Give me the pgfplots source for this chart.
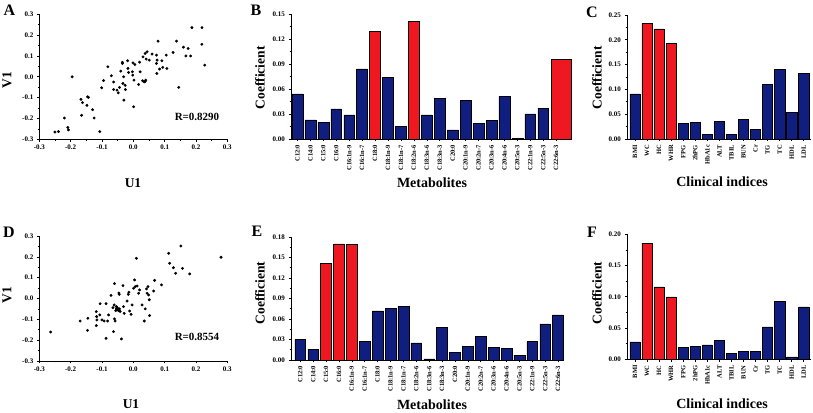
\documentclass[border=0pt]{standalone}
\usepackage{pgfplots}
\pgfplotsset{compat=1.18}
\usepackage{fontspec}
\setmainfont{Liberation Serif}
\definecolor{barblue}{RGB}{16,30,128}
\definecolor{barred}{RGB}{240,24,32}
\pgfplotsset{
  panel/.style={scale only axis, anchor=south west,
    axis x line*=bottom, axis y line*=left,
    axis line style={line width=0.7pt},
    tick align=outside, major tick length=2.5pt, minor tick length=1.5pt,
    every tick/.style={line width=0.6pt, black},
    ticklabel style={font=\rmfamily\fontsize{7}{7}\selectfont\bfseries},
    /pgf/number format/assume math mode=true,
    /pgf/number format/fixed, /pgf/number format/fixed zerofill,
    clip=false},
  scat/.style={panel, width=188pt, height=125pt,
    xmin=-0.3, xmax=0.3, ymin=-0.3, ymax=0.3,
    xtick={-0.3,-0.2,-0.1,0,0.1,0.2,0.3}, ytick={-0.3,-0.2,-0.1,0,0.1,0.2,0.3},
    minor tick num=1, /pgf/number format/precision=1},
  bars/.style={panel, ybar, bar shift=0pt, bar width=0.84,
    minor y tick num=1, xtick={0,...,20},
    xticklabel style={rotate=90, anchor=east, font=\rmfamily\fontsize{6.5}{6.5}\selectfont\bfseries},
    /pgf/number format/precision=2},
  blu/.style={fill=barblue, draw=black, line width=0.5pt},
  rd/.style={fill=barred, draw=black, line width=0.5pt},
  mk/.style={only marks, mark=*, mark size=1.25pt, black}
}
\begin{document}
\begin{tikzpicture}[x=1pt,y=1pt]
\useasboundingbox (0,0) rectangle (813,412);
% ---------- A ----------
\begin{axis}[scat, at={(39.3pt,272.7pt)}]
\addplot[mk] coordinates {
(-0.250,-0.265)(-0.239,-0.263)(-0.220,-0.198)(-0.209,-0.243)(-0.207,-0.255)(-0.195,0.000)
(-0.167,-0.108)(-0.162,-0.124)(-0.165,-0.185)(-0.146,-0.096)(-0.143,-0.099)(-0.148,-0.137)
(-0.130,-0.158)(-0.125,-0.198)(-0.107,-0.263)(-0.101,-0.053)(-0.095,-0.018)(-0.081,0.048)
(-0.070,0.005)(-0.063,-0.025)(-0.063,-0.061)(-0.052,-0.064)(-0.048,-0.077)(-0.044,-0.051)
(-0.040,0.027)(-0.035,0.064)(-0.033,-0.032)(-0.030,-0.112)(-0.035,0.070)(-0.026,-0.041)
(-0.025,-0.061)(-0.031,0.000)(-0.018,0.077)(-0.017,0.040)(-0.015,0.021)(-0.003,0.024)
(-0.002,0.008)(0.001,-0.144)(0.002,-0.016)(-0.001,0.067)(0.005,0.059)(0.017,-0.037)
(0.022,0.024)(0.020,0.070)(0.030,-0.019)(0.035,-0.024)(0.038,-0.022)(0.040,-0.016)
(0.031,0.096)(0.038,0.112)(0.041,0.085)(0.044,0.120)(0.051,0.080)(0.060,0.109)
(0.074,0.104)(0.076,0.080)(0.074,0.064)(0.075,0.016)(0.079,0.171)(0.084,0.037)
(0.091,0.077)(0.094,0.045)(0.105,0.104)(0.107,0.040)(0.127,0.117)(0.138,0.171)
(0.145,-0.051)(0.160,0.142)(0.168,0.100)(0.175,0.136)(0.183,0.100)(0.187,0.236)
(0.219,0.236)(0.219,0.156)(0.228,0.056)};
\end{axis}
% ---------- D ----------
\begin{axis}[scat, at={(39.3pt,51pt)}]
\addplot[mk] coordinates {
(-0.264,-0.161)(-0.170,-0.108)(-0.145,-0.095)(-0.146,-0.153)(-0.118,-0.063)(-0.117,-0.087)
(-0.118,-0.130)(-0.116,-0.103)(-0.106,-0.025)(-0.107,-0.079)(-0.100,-0.103)(-0.093,-0.108)
(-0.087,-0.025)(-0.087,-0.191)(-0.082,-0.108)(-0.079,-0.079)(-0.071,0.015)(-0.065,-0.044)
(-0.060,0.071)(-0.061,-0.031)(-0.063,-0.159)(-0.060,-0.098)(-0.058,-0.108)(-0.054,-0.039)
(-0.052,-0.053)(-0.050,-0.046)(-0.047,-0.058)(-0.044,-0.050)(-0.042,-0.062)(-0.056,-0.058)
(-0.054,-0.049)(-0.046,0.026)(-0.045,0.020)(-0.038,-0.194)(-0.033,0.062)(-0.031,-0.039)
(-0.029,-0.071)(-0.020,-0.012)(-0.016,0.020)(-0.014,0.030)(-0.012,-0.060)(-0.007,-0.076)
(-0.004,-0.031)(0.001,0.049)(0.004,0.089)(0.006,0.057)(0.010,0.193)(0.012,0.060)
(0.017,0.025)(0.020,0.041)(0.028,-0.031)(0.035,-0.108)(0.038,-0.050)(0.042,0.046)
(0.044,0.025)(0.047,0.057)(0.049,0.017)(0.051,-0.006)(0.052,-0.082)(0.065,0.036)
(0.068,0.087)(0.090,0.065)(0.113,0.217)(0.116,0.169)(0.128,0.148)(0.135,0.121)
(0.152,0.252)(0.157,0.145)(0.180,0.118)(0.280,0.198)};
\end{axis}
% ---------- B ----------
\begin{axis}[bars, at={(291pt,273pt)}, width=280pt, height=125pt,
  xmin=-0.5, xmax=21.15, ymin=0, ymax=0.15,
  ytick={0,0.03,0.06,0.09,0.12,0.15},
  xticklabels={C12:0,C14:0,C15:0,C16:0,C16:1n-9,C16:1n-7,C18:0,C18:1n-9,C18:1n-7,C18:2n-6,C18:3n-6,C18:3n-3,C20:0,C20:1n-9,C20:2n-7,C20:3n-6,C20:4n-6,C20:5n-3,C22:1n-9,C22:5n-3,C22:6n-3}]
\addplot[blu] coordinates {(0,0.054)(1,0.023)(2,0.020)(3,0.036)(4,0.029)(5,0.084)(7,0.074)(8,0.015)(10,0.029)(11,0.049)(12,0.011)(13,0.046)(14,0.019)(15,0.022)(16,0.051)(17,0.001)(18,0.030)(19,0.037)};
\addplot[rd] coordinates {(6,0.129)(9,0.141)};
\addplot[rd, bar shift=0.38, bar width=1.55] coordinates {(20,0.096)};
\end{axis}
% ---------- E ----------
\begin{axis}[bars, at={(291pt,52pt)}, width=273pt, height=123pt,
  xmin=-0.72, xmax=20.46, ymin=0, ymax=0.18,
  ytick={0,0.03,0.06,0.09,0.12,0.15,0.18},
  xticklabels={C12:0,C14:0,C15:0,C16:0,C16:1n-9,C16:1n-7,C18:0,C18:1n-9,C18:1n-7,C18:2n-6,C18:3n-6,C18:3n-3,C20:0,C20:1n-9,C20:2n-7,C20:3n-6,C20:4n-6,C20:5n-3,C22:1n-9,C22:5n-3,C22:6n-3}]
\addplot[blu] coordinates {(0,0.030)(1,0.016)(5,0.027)(6,0.072)(7,0.075)(8,0.078)(9,0.025)(10,0.0015)(11,0.048)(12,0.011)(13,0.020)(14,0.035)(15,0.018)(16,0.017)(17,0.007)(18,0.027)(19,0.053)(20,0.066)};
\addplot[rd] coordinates {(2,0.141)(3,0.170)(4,0.169)};
\end{axis}
% ---------- C ----------
\begin{axis}[bars, at={(627pt,273pt)}, width=184pt, height=124pt,
  xmin=-0.66, xmax=14.6, ymin=0, ymax=0.25, xtick={0,...,14},
  ytick={0,0.05,0.10,0.15,0.20,0.25}, bar width=0.85,
  xticklabels={BMI,WC,HC,WHR,FPG,2hPG,HbA1c,ALT,TBIL,BUN,Cr,TG,TC,HDL,LDL}]
\addplot[blu] coordinates {(0,0.091)(4,0.031)(5,0.034)(6,0.010)(7,0.035)(8,0.009)(9,0.039)(10,0.019)(11,0.110)(12,0.141)(13,0.054)(14,0.133)};
\addplot[rd] coordinates {(1,0.233)(2,0.222)(3,0.193)};
\end{axis}
% ---------- F ----------
\begin{axis}[bars, at={(627pt,52.7pt)}, width=184pt, height=125pt,
  xmin=-0.66, xmax=14.6, ymin=0, ymax=0.20, xtick={0,...,14},
  ytick={0,0.05,0.10,0.15,0.20}, bar width=0.85,
  xticklabels={BMI,WC,HC,WHR,FPG,2hPG,HbA1c,ALT,TBIL,BUN,Cr,TG,TC,HDL,LDL}]
\addplot[blu] coordinates {(0,0.028)(4,0.019)(5,0.021)(6,0.023)(7,0.030)(8,0.0096)(9,0.013)(10,0.013)(11,0.052)(12,0.093)(13,0.004)(14,0.084)};
\addplot[rd] coordinates {(1,0.186)(2,0.116)(3,0.100)};
\end{axis}
% ---------- labels ----------
\begin{scope}[every node/.style={font=\rmfamily\bfseries}]
\node[font=\rmfamily\fontsize{16}{16}\selectfont\bfseries] at (9.5,402) {A};
\node[font=\rmfamily\fontsize{16}{16}\selectfont\bfseries] at (256,402) {B};
\node[font=\rmfamily\fontsize{16}{16}\selectfont\bfseries] at (592,400) {C};
\node[font=\rmfamily\fontsize{16}{16}\selectfont\bfseries] at (9,180) {D};
\node[font=\rmfamily\fontsize{16}{16}\selectfont\bfseries] at (257,181) {E};
\node[font=\rmfamily\fontsize{16}{16}\selectfont\bfseries] at (592,180) {F};
\node[font=\rmfamily\fontsize{13.5}{13.5}\selectfont\bfseries, rotate=90] at (7,332) {V1};
\node[font=\rmfamily\fontsize{13.5}{13.5}\selectfont\bfseries, rotate=90] at (7,117) {V1};
\node[font=\rmfamily\fontsize{13.5}{13.5}\selectfont\bfseries] at (133,229) {U1};
\node[font=\rmfamily\fontsize{13.5}{13.5}\selectfont\bfseries] at (131,8) {U1};
\node[font=\rmfamily\fontsize{11}{11}\selectfont\bfseries] at (197,295) {R=0.8290};
\node[font=\rmfamily\fontsize{11}{11}\selectfont\bfseries] at (197,75) {R=0.8554};
\node[font=\rmfamily\fontsize{13.5}{13.5}\selectfont\bfseries, rotate=90] at (260,334) {Coefficient};
\node[font=\rmfamily\fontsize{13.5}{13.5}\selectfont\bfseries, rotate=90] at (260,119) {Coefficient};
\node[font=\rmfamily\fontsize{13.5}{13.5}\selectfont\bfseries, rotate=90] at (597,334) {Coefficient};
\node[font=\rmfamily\fontsize{13.5}{13.5}\selectfont\bfseries, rotate=90] at (597,119) {Coefficient};
\node[font=\rmfamily\fontsize{14}{14}\selectfont\bfseries] at (432,229) {Metabolites};
\node[font=\rmfamily\fontsize{14}{14}\selectfont\bfseries] at (432,7) {Metabolites};
\node[font=\rmfamily\fontsize{14}{14}\selectfont\bfseries] at (722,230) {Clinical indices};
\node[font=\rmfamily\fontsize{14}{14}\selectfont\bfseries] at (722,8) {Clinical indices};
\end{scope}
\end{tikzpicture}
\end{document}
